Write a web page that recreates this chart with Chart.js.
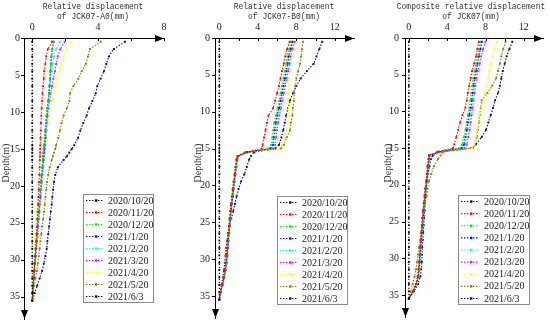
<!DOCTYPE html>
<html><head><meta charset="utf-8">
<script src="https://cdn.jsdelivr.net/npm/chart.js@4.4.1/dist/chart.umd.min.js"></script>
<style>
html,body{margin:0;padding:0;background:#fff;width:550px;height:329px;overflow:hidden}
canvas{position:absolute;top:0}
</style></head>
<body>
<canvas id="c1" width="183" height="329" style="left:0"></canvas>
<canvas id="c2" width="183" height="329" style="left:183px"></canvas>
<canvas id="c3" width="184" height="329" style="left:366px"></canvas>
<script>
// ---------- data ----------
const depth = [0.5,1.5,2.5,3.5,4.5,5.5,6.5,7.5,8.5,9.5,10.5,11.5,12.5,13.5,14.5,15,15.5,16,16.5,17.5,18.5,19.5,20.5,21.5,22.5,23.5,24.5,25.5,26.5,27.5,28.5,29.5,30.5,31.5,32.5,33.5,34.5,35.5];
const dates = ['2020/10/20','2020/11/20','2020/12/20','2021/1/20','2021/2/20','2021/3/20','2021/4/20','2021/5/20','2021/6/3'];
const base1020 = [0,0,0,0,0,0,0,0,0,0,0,0,0,0,0,0,0,0,0,0,0,0,0,0,0,0,0,0,0,0,0,0,0,0,0,0,0,0];

// Relative displacement of JCK07-A0 (mm)
const a0Nov20 = [1.20,0.95,0.85,0.80,0.72,0.70,0.66,0.62,0.60,0.57,0.55,0.53,0.52,0.50,0.49,0.48,0.48,0.47,0.46,0.45,0.43,0.41,0.39,0.37,0.35,0.33,0.31,0.29,0.27,0.24,0.21,0.18,0.15,0.12,0.09,0.06,0.03,0];
const a0Dec20 = [1.28,1.20,1.15,1.12,1.09,1.06,1.03,1.00,0.95,0.90,0.86,0.82,0.78,0.75,0.71,0.69,0.67,0.65,0.63,0.59,0.55,0.51,0.48,0.44,0.41,0.37,0.34,0.30,0.27,0.23,0.20,0.16,0.13,0.10,0.07,0.05,0.02,0];
const a0Jan21 = [1.30,1.22,1.17,1.14,1.11,1.08,1.05,1.02,0.97,0.92,0.88,0.84,0.80,0.77,0.73,0.71,0.69,0.67,0.65,0.61,0.57,0.53,0.50,0.46,0.43,0.39,0.36,0.32,0.29,0.25,0.22,0.18,0.15,0.12,0.09,0.06,0.03,0];
const a0Feb21 = [1.67,1.45,1.32,1.25,1.18,1.12,1.08,1.05,1.00,0.95,0.91,0.87,0.83,0.80,0.76,0.74,0.72,0.70,0.68,0.64,0.60,0.56,0.53,0.49,0.46,0.42,0.39,0.35,0.32,0.28,0.24,0.20,0.17,0.13,0.10,0.07,0.03,0];
const a0Mar21 = [1.97,1.70,1.55,1.45,1.38,1.28,1.20,1.12,1.05,0.98,0.93,0.89,0.85,0.82,0.78,0.76,0.74,0.72,0.70,0.66,0.62,0.58,0.55,0.51,0.48,0.44,0.41,0.37,0.33,0.29,0.25,0.21,0.17,0.13,0.10,0.07,0.03,0];
const a0Apr21 = [2.38,2.10,1.90,1.75,1.65,1.52,1.42,1.30,1.20,1.10,1.00,0.95,0.90,0.85,0.80,0.77,0.75,0.72,0.69,0.62,0.55,0.47,0.40,0.35,0.30,0.26,0.23,0.20,0.17,0.14,0.12,0.09,0.07,0.05,0.03,0.02,0.01,0];
const a0May21 = [4.17,3.50,3.38,3.25,3.00,2.80,2.50,2.30,2.26,2.10,1.90,1.78,1.68,1.58,1.45,1.40,1.32,1.25,1.18,1.06,0.97,0.90,0.85,0.80,0.76,0.71,0.66,0.60,0.55,0.50,0.45,0.40,0.34,0.28,0.20,0.12,0.05,0];
const a0Jun03 = [5.63,4.95,4.65,4.50,4.35,4.15,3.95,3.85,3.65,3.45,3.30,3.10,2.92,2.78,2.55,2.40,2.25,2.10,1.90,1.55,1.40,1.32,1.27,1.22,1.18,1.12,1.07,1.02,0.97,0.92,0.88,0.80,0.70,0.60,0.45,0.30,0.15,0];

// Relative displacement of JCK07-B0 (mm)
const b0Nov20 = [7.30,7.05,6.85,6.70,6.50,6.35,6.20,6.00,5.80,5.60,5.10,4.95,4.80,4.65,4.50,4.40,2.70,1.90,1.77,1.67,1.57,1.47,1.38,1.30,1.21,1.13,1.05,0.98,0.91,0.85,0.79,0.73,0.65,0.55,0.43,0.27,0.10,0];
const b0Dec20 = [7.45,7.25,7.05,6.95,6.80,6.65,6.50,6.35,6.20,6.05,5.85,5.70,5.60,5.50,5.40,5.10,2.80,1.90,1.82,1.72,1.62,1.52,1.43,1.35,1.26,1.18,1.10,1.03,0.96,0.90,0.84,0.78,0.70,0.60,0.47,0.30,0.12,0];
const b0Jan21 = [7.60,7.40,7.20,7.10,6.95,6.80,6.65,6.50,6.35,6.20,6.00,5.85,5.75,5.65,5.55,5.30,2.90,1.95,1.85,1.75,1.65,1.55,1.46,1.38,1.29,1.21,1.13,1.06,0.99,0.93,0.87,0.81,0.73,0.63,0.50,0.32,0.13,0];
const b0Feb21 = [7.70,7.45,7.25,7.15,7.00,6.85,6.70,6.55,6.40,6.25,6.10,5.95,5.85,5.75,5.65,5.40,2.90,2.00,1.87,1.77,1.67,1.57,1.48,1.40,1.31,1.23,1.15,1.08,1.01,0.95,0.89,0.83,0.75,0.65,0.52,0.34,0.14,0];
const b0Mar21 = [7.85,7.60,7.40,7.30,7.15,7.00,6.85,6.70,6.55,6.40,6.25,6.10,6.00,5.90,5.80,5.50,3.00,2.00,1.89,1.79,1.69,1.59,1.50,1.42,1.33,1.25,1.17,1.10,1.03,0.97,0.91,0.85,0.77,0.67,0.54,0.36,0.15,0];
const b0Apr21 = [8.10,7.80,7.60,7.45,7.35,7.25,7.20,7.15,7.15,7.20,7.25,7.15,7.05,6.85,6.50,6.20,3.00,1.85,1.77,1.67,1.57,1.47,1.38,1.30,1.21,1.13,1.05,0.98,0.91,0.85,0.79,0.73,0.65,0.55,0.43,0.27,0.10,0];
const b0May21 = [8.70,8.60,8.50,8.40,8.20,8.00,7.90,7.80,7.75,7.65,7.60,7.45,7.35,7.00,6.70,6.40,3.10,1.90,1.80,1.70,1.60,1.50,1.42,1.34,1.26,1.18,1.10,1.03,0.96,0.90,0.84,0.78,0.70,0.60,0.47,0.30,0.12,0];
const b0Jun03 = [10.70,10.40,10.10,9.80,9.10,8.45,8.00,7.65,7.35,7.15,6.95,6.80,6.65,6.45,6.20,5.80,3.60,3.30,3.10,2.85,2.60,2.25,2.00,1.80,1.62,1.45,1.25,1.05,0.90,0.80,0.72,0.64,0.56,0.47,0.36,0.24,0.10,0];

// Composite relative displacement of JCK07 (mm)
const cNov20 = [7.30,7.15,7.00,6.80,6.60,6.45,6.30,6.15,6.05,5.90,5.60,5.35,5.15,4.95,4.75,4.60,3.00,2.10,2.05,1.95,1.87,1.80,1.70,1.63,1.55,1.48,1.41,1.35,1.29,1.23,1.17,1.12,1.07,1.01,0.92,0.73,0.42,0];
const cDec20 = [7.45,7.30,7.15,7.00,6.85,6.70,6.60,6.50,6.40,6.30,6.15,6.00,5.90,5.75,5.55,5.30,3.00,2.10,2.10,2.00,1.92,1.85,1.75,1.68,1.60,1.53,1.46,1.40,1.34,1.28,1.22,1.17,1.12,1.06,0.97,0.78,0.45,0];
const cJan21 = [7.60,7.45,7.30,7.15,7.00,6.85,6.75,6.65,6.55,6.45,6.30,6.15,6.05,5.90,5.75,5.50,3.10,2.15,2.13,2.03,1.95,1.88,1.78,1.71,1.63,1.56,1.49,1.43,1.37,1.31,1.25,1.20,1.15,1.09,1.00,0.80,0.46,0];
const cFeb21 = [7.70,7.50,7.35,7.20,7.05,6.90,6.80,6.70,6.60,6.50,6.40,6.30,6.15,6.05,5.90,5.60,3.10,2.20,2.15,2.05,1.97,1.90,1.80,1.73,1.65,1.58,1.51,1.45,1.39,1.33,1.27,1.22,1.17,1.11,1.02,0.82,0.47,0];
const cMar21 = [8.00,7.75,7.55,7.40,7.20,7.05,6.95,6.85,6.75,6.65,6.55,6.45,6.35,6.20,6.05,5.80,3.20,2.20,2.07,1.97,1.89,1.82,1.72,1.65,1.57,1.50,1.43,1.37,1.31,1.25,1.19,1.14,1.09,1.03,0.94,0.74,0.42,0];
const cApr21 = [9.20,8.95,8.75,8.55,8.40,8.25,8.10,7.95,7.80,7.60,7.35,7.20,7.10,7.00,6.85,6.60,3.30,2.20,2.02,1.92,1.84,1.77,1.67,1.60,1.52,1.45,1.38,1.32,1.26,1.20,1.14,1.09,1.04,0.98,0.89,0.70,0.38,0];
const cMay21 = [10.10,9.85,9.65,9.50,9.30,9.10,8.70,8.20,7.60,7.50,7.40,7.30,7.20,7.10,6.90,6.70,3.60,3.30,3.05,2.60,2.35,2.10,1.95,1.85,1.70,1.60,1.50,1.40,1.30,1.20,1.05,0.95,0.85,0.75,0.60,0.40,0.20,0];
const cJun03 = [10.80,10.50,10.20,10.00,9.80,9.65,9.50,9.30,9.00,8.80,8.55,8.30,8.05,7.60,7.00,6.50,3.40,2.50,2.30,2.15,2.00,1.90,1.82,1.75,1.70,1.65,1.60,1.55,1.50,1.45,1.40,1.38,1.35,1.30,1.20,0.95,0.55,0];

const xTicksA0 = [0,2,4,6,8];
const xTicksB0 = [0,2,4,6,8,10,12];
const yTicks = [0,5,10,15,20,25,30,35];
const titleA0 = ['Relative displacement','of JCK07-A0(mm)'];
const titleB0 = ['Relative displacement','of JCK07-B0(mm)'];
const titleC = ['Composite relative displacement','of JCK07(mm)'];
const yTitle = 'Depth(m)';

// ---------- styling ----------
const colors = ['#000000','#ff0000','#00ee00','#0000ff','#00ffff','#ff00ff','#ffff00','#808000','#000080'];
const DASH = [1.4, 1.6];

function makeDataset(vals, i) {
  return {
    label: dates[i],
    data: depth.map((d, k) => ({x: vals[k], y: d})),
    borderColor: colors[i],
    backgroundColor: colors[i],
    borderWidth: 1.1,
    borderDash: DASH,
    pointStyle: 'rect',
    pointRadius: 1.3,
    pointBorderWidth: 0,
    pointBackgroundColor: colors[i],
    tension: 0,
    fill: false
  };
}

const decor = {
  id: 'decor',
  afterDraw(chart, args, o) {
    const {ctx, chartArea: a, scales: {x, y}} = chart;
    ctx.save();
    ctx.strokeStyle = '#000'; ctx.fillStyle = '#000'; ctx.lineWidth = 1;
    // inward ticks on x axis, outward on y axis
    x.ticks.forEach(t => {
      const px = Math.round(x.getPixelForValue(t.value)) + 0.5;
      ctx.beginPath(); ctx.moveTo(px, a.top); ctx.lineTo(px, a.top + 3); ctx.stroke();
    });
    y.ticks.forEach(t => {
      const py = Math.round(y.getPixelForValue(t.value)) + 0.5;
      ctx.beginPath(); ctx.moveTo(a.left - 3, py); ctx.lineTo(a.left, py); ctx.stroke();
    });
    // arrow heads
    const ty = Math.round(a.top) + 0.5, lx = Math.round(a.left) + 0.5;
    ctx.beginPath(); ctx.moveTo(a.right, ty); ctx.lineTo(a.right - 9, ty - 3.5); ctx.lineTo(a.right - 9, ty + 3.5); ctx.closePath(); ctx.fill();
    ctx.beginPath(); ctx.moveTo(lx, a.bottom); ctx.lineTo(lx - 3.5, a.bottom - 9); ctx.lineTo(lx + 3.5, a.bottom - 9); ctx.closePath(); ctx.fill();
    // x title (two lines, monospace, slightly condensed)
    ctx.font = '9.5px "Liberation Mono"'; ctx.fillStyle = '#333';
    ctx.textAlign = 'center'; ctx.textBaseline = 'middle';
    o.title.forEach((line, i) => {
      ctx.save();
      ctx.translate(o.titleX, 6 + i * 10.5);
      ctx.scale(0.84, 1);
      ctx.fillText(line, 0, 0);
      ctx.restore();
    });
    // y title
    ctx.save();
    ctx.translate(o.yTitleX, o.yTitleY); ctx.rotate(-Math.PI / 2);
    ctx.font = '10px "Liberation Serif"'; ctx.fillStyle = '#333';
    ctx.textAlign = 'center'; ctx.textBaseline = 'middle';
    ctx.fillText(yTitle, 0, 0);
    ctx.restore();
    // legend
    const L = o.legend;
    ctx.fillStyle = '#fff';
    ctx.fillRect(L.x, L.y, L.w, L.h);
    ctx.strokeStyle = '#8a8a8a';
    ctx.strokeRect(L.x + 0.5, L.y + 0.5, L.w, L.h);
    const rowH = L.h / chart.data.datasets.length;
    chart.data.datasets.forEach((ds, i) => {
      const cy = L.y + rowH * (i + 0.5) + 0.5;
      ctx.save();
      ctx.strokeStyle = ds.borderColor; ctx.lineWidth = 1.1; ctx.setLineDash(DASH);
      ctx.beginPath(); ctx.moveTo(L.x + 3, cy); ctx.lineTo(L.x + 21, cy); ctx.stroke();
      ctx.setLineDash([]);
      ctx.fillStyle = ds.borderColor;
      ctx.fillRect(L.x + 12, cy - 1.2, 2.4, 2.4);
      ctx.restore();
      ctx.fillStyle = '#222';
      ctx.font = '10px "Liberation Serif"';
      ctx.textAlign = 'left'; ctx.textBaseline = 'middle';
      ctx.fillText(ds.label, L.x + L.tx, cy + 0.5);
    });
    ctx.restore();
  }
};

function makePanel(id, p) {
  const series = p.series.map((v, i) => makeDataset(v, i));
  return new Chart(document.getElementById(id), {
    type: 'line',
    data: {datasets: series},
    plugins: [decor],
    options: {
      responsive: false,
      animation: false,
      devicePixelRatio: 1,
      events: [],
      layout: {padding: {left: 0, top: 0, right: p.padRight, bottom: 2}},
      plugins: {
        legend: {display: false},
        tooltip: {enabled: false},
        decor: {yTitleX: p.yTitleX, yTitleY: 163, legend: p.legend, title: p.title, titleX: p.titleX}
      },
      scales: {
        x: {
          type: 'linear', position: 'top', min: p.xmin, max: p.xmax,
          afterFit: s => { s.height = 38; },
          afterBuildTicks: s => { s.ticks = p.xTicks.map(v => ({value: v})); },
          grid: {display: false, drawTicks: false},
          border: {display: true, color: '#000', width: 1},
          ticks: {
            padding: 5, color: '#222', autoSkip: false, maxRotation: 0,
            font: {family: '"Liberation Serif"', size: 10},
            callback: v => (v % 4 === 0 ? String(v) : '')
          },
          title: {display: false}
        },
        y: {
          type: 'linear', reverse: true, min: 0, max: 38,
          afterFit: s => { s.width = p.left; },
          afterBuildTicks: s => { s.ticks = yTicks.map(v => ({value: v})); },
          grid: {display: false, drawTicks: false},
          border: {display: true, color: '#000', width: 1},
          ticks: {
            padding: p.yPad, color: '#222', autoSkip: false,
            font: {family: '"Liberation Serif"', size: 10}
          }
        }
      }
    }
  });
}

makePanel('c1', {
  series: [base1020, a0Nov20, a0Dec20, a0Jan21, a0Feb21, a0Mar21, a0Apr21, a0May21, a0Jun03],
  title: titleA0, titleX: 93, xTicks: xTicksA0, xmin: -0.5, xmax: 8,
  left: 24, padRight: 19, yPad: 4, yTitleX: 6.5,
  legend: {x: 83, y: 194, w: 70, h: 108, tx: 25}
});
makePanel('c2', {
  series: [base1020, b0Nov20, b0Dec20, b0Jan21, b0Feb21, b0Mar21, b0Apr21, b0May21, b0Jun03],
  title: titleB0, titleX: 101, xTicks: xTicksB0, xmin: -0.45, xmax: 14,
  left: 32, padRight: 12, yPad: 5, yTitleX: 15,
  legend: {x: 94, y: 196, w: 70, h: 108, tx: 25}
});
makePanel('c3', {
  series: [base1020, cNov20, cDec20, cJan21, cFeb21, cMar21, cApr21, cMay21, cJun03],
  title: titleC, titleX: 105, xTicks: xTicksB0, xmin: -0.4, xmax: 14,
  left: 39, padRight: 7, yPad: 6, yTitleX: 22,
  legend: {x: 92, y: 195, w: 71, h: 109, tx: 26}
});
</script>
</body></html>
